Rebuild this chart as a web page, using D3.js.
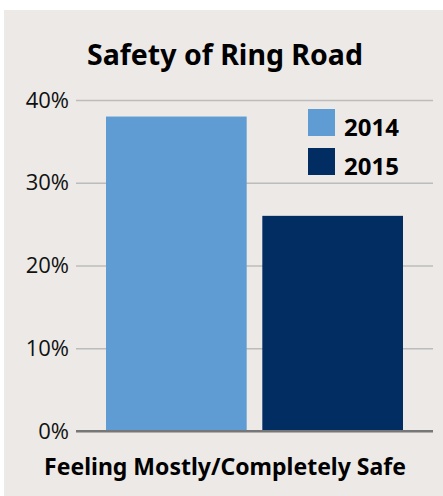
<!DOCTYPE html>
<html>
<head>
<meta charset="utf-8">
<title>Safety of Ring Road</title>
<script src="https://d3js.org/d3.v7.min.js"></script>
<style>
*{ margin:0; padding:0; }
body{ background:#fff; }
</style>
</head>
<body>
<script>
var categories = ["Feeling Mostly/Completely Safe"];
var years = ["2014", "2015"];
var values2014 = [38];
var values2015 = [26];
var yTicks = [0, 10, 20, 30, 40];
var colors = ["#5f9cd3", "#022d62"];

var width = 443, height = 496;
var svg = d3.select("body").append("svg")
	.attr("width", width).attr("height", height);

// panel background
svg.append("rect").attr("x", 4).attr("y", 10)
	.attr("width", width - 4).attr("height", height - 10)
	.attr("fill", "#ece9e6");

var mLeft = 76, mRight = 433, mTop = 100, mBottom = 431;

var y = d3.scaleLinear().domain([0, 40]).range([mBottom, mTop]);
var x0 = d3.scaleBand().domain(categories).range([mLeft, mRight]).padding(0);
var x1 = d3.scaleBand().domain(years).range([30, x0.bandwidth() - 30]).paddingInner(0.1);

// grid + labels
var yAxis = d3.axisLeft(y).tickValues(yTicks).tickSize(-(mRight - mLeft))
	.tickFormat(function(d){ return d + "%"; }).tickPadding(7);
var ga = svg.append("g").attr("transform", "translate(" + mLeft + ",0)").call(yAxis);
ga.select(".domain").remove();
ga.selectAll(".tick line").attr("stroke", function(d){ return d === 0 ? "#777" : "#bcbcbc"; })
	.attr("stroke-width", function(d){ return d === 0 ? 2 : 1.3; });
ga.selectAll(".tick text").attr("font-family", "'Open Sans', sans-serif")
	.attr("font-size", 22).attr("fill", "#111");

var series = [values2014, values2015];
var g = svg.append("g");
categories.forEach(function(c, ci){
	years.forEach(function(yr, si){
		g.append("rect")
			.attr("x", x0(c) + x1(yr))
			.attr("y", y(series[si][ci]))
			.attr("width", x1.bandwidth())
			.attr("height", mBottom - y(series[si][ci]))
			.attr("fill", colors[si]);
	});
});

// zero line on top of bars
svg.append("line").attr("x1", mLeft).attr("x2", mRight)
	.attr("y1", y(0)).attr("y2", y(0)).attr("stroke", "#777").attr("stroke-width", 2);

// title
svg.append("text").attr("x", 225).attr("y", 65).attr("text-anchor", "middle")
	.attr("font-family", "'Noto Sans', sans-serif").attr("font-weight", "bold")
	.attr("font-size", 28.5).attr("fill", "#000").text("Safety of Ring Road");

// x label
svg.append("text").attr("x", 225).attr("y", 475)
	.attr("text-anchor", "middle")
	.attr("font-family", "'Noto Sans', sans-serif").attr("font-weight", "bold")
	.attr("font-size", 23).attr("fill", "#000").text(categories[0]);

// legend
var lg = svg.append("g").attr("transform", "translate(308,109)");
years.forEach(function(yr, i){
	lg.append("rect").attr("x", 0).attr("y", i * 39).attr("width", 27).attr("height", 27)
		.attr("fill", colors[i]);
	lg.append("text").attr("x", 36).attr("y", i * 39 + 27)
		.attr("font-family", "'Noto Sans', sans-serif").attr("font-weight", "bold")
		.attr("font-size", 24).attr("fill", "#000").text(yr);
});
</script>
</body>
</html>
